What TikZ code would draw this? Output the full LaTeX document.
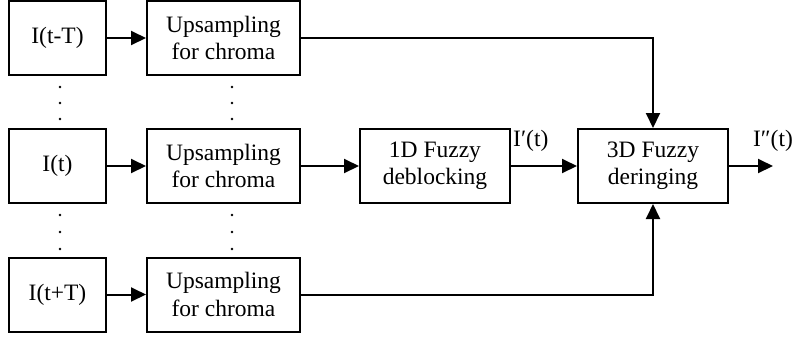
\documentclass[tikz,border=0pt]{standalone}
\usepackage{fontspec}
\setmainfont{Liberation Serif}
\usetikzlibrary{arrows.meta,positioning}

\tikzset{
	blk/.style={draw, line width=1pt, minimum height=37pt, inner sep=0pt, align=center,
		font=\fontsize{11.75}{13.6}\selectfont},
	frame/.style={blk, minimum width=48.5pt},
	upsmp/.style={blk, minimum width=76.5pt},
	fuzzy/.style={blk, minimum width=75pt},
	lbl/.style={inner sep=0pt, font=\fontsize{11.75}{13.6}\selectfont},
	link/.style={->, line width=1pt}
}

\begin{document}
\begin{tikzpicture}[x=0.5pt,y=-0.5pt,>={Triangle[length=7.5pt,width=7pt]}]
	\useasboundingbox (0,0) rectangle (793,339);
	% frames
	\node[frame] (tm) at (57.5,38) {I(t-T)};
	\node[frame] (t0) at (57.5,166) {I(t)};
	\node[frame] (tp) at (57.5,294.5) {I(t+T)};
	% chroma upsampling
	\node[upsmp] (upTop) at (223.5,38) {Upsampling\\for chroma};
	\node[upsmp] (upMid) at (223.5,166) {Upsampling\\for chroma};
	\node[upsmp] (upBot) at (223.5,294.5) {Upsampling\\for chroma};
	% fuzzy filters
	\node[fuzzy] (deblock) at (435,166) {1D Fuzzy\\deblocking};
	\node[fuzzy] (dering) at (653,166) {3D Fuzzy\\deringing};
	\coordinate (out) at (773,166);
	% dots
	\foreach \x in {60,232}
		\foreach \y in {87,103,119,215,232,249}
			\fill (\x,\y) circle (0.7pt);
	% connections
	\draw[link] (tm) -- (upTop);
	\draw[link] (t0) -- (upMid);
	\draw[link] (tp) -- (upBot);
	\draw[link] (upMid) -- (deblock);
	\draw[link] (deblock) -- (dering) node[lbl, pos=0.3, above=7pt] {I′(t)};
	\draw[link] (upTop.east) -| (dering.north);
	\draw[link] (upBot.east) -| (dering.south);
	\draw[link] (dering) -- (out) node[lbl, pos=1, above=7pt] {I″(t)};
\end{tikzpicture}
\end{document}
